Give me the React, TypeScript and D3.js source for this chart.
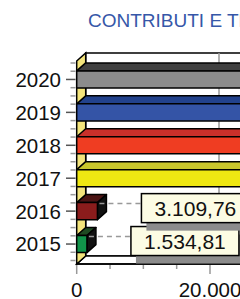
import React from 'react';
import * as d3 from 'd3';

// data (2017-2020 run past the cropped edge, estimated)
const years = ['2015', '2016', '2017', '2018', '2019', '2020'];
const values = [1534.81, 3109.76, 46000, 52000, 49000, 58000];
const frontColors = ['#11944a', '#8b1c1c', '#efe812', '#ef3d22', '#3454a6', '#8c8c8c'];
const topColors = ['#1f4a22', '#4b1414', '#c9c62c', '#c9302a', '#22428c', '#404040'];
const xTickValues = [0, 20000, 40000, 60000, 80000];
const minorTickValues = d3.range(0, 80001, 5000);
const title = 'CONTRIBUTI E TRASFERIMENTI';

const W = 240;
const H = 299;
const DX = 9; // 3d depth
const DY = 8;
const FAR = 700;

const it = d3.formatLocale({ decimal: ',', thousands: '.', grouping: [3], currency: ['€', ''] });
const fmtValue = it.format(',.2f');
const fmtTick = it.format(',.0f');

const App = () => {
  const x = d3.scaleLinear().domain([0, 20000]).range([76.7, 210]);
  const y = d3
    .scaleBand()
    .domain([...years].reverse())
    .range([63, 260.5])
    .paddingInner(0.48)
    .paddingOuter(0.24);
  const bw = y.bandwidth();
  const step = y.step();
  const x0 = x(0);
  const yTop = 61;
  const yBot = 264;

  const first = (y('2020') as number) + bw / 2;
  const yTicks = d3.range(-2, 23).map((j) => ({ y: first + (j * step) / 4, major: j % 4 === 0 }));

  const poly = (pts: number[][]) => pts.map((p) => p.join(',')).join(' ');
  const font = 'Liberation Sans, Arial, sans-serif';

  const bars = years.map((yr, i) => {
    const yy = y(yr) as number;
    const x1 = x(values[i]);
    return { yr, i, yy, x1 };
  });

  return (
    <svg width={W} height={H} style={{ position: 'absolute', left: 0, top: 0, background: '#fff' }}>
      <text x={88} y={27} fontFamily={font} fontSize={19} fill="#3657a8">
        {title}
      </text>

      {/* back wall */}
      <rect x={x0 + DX} y={yTop - DY} width={FAR} height={yBot - yTop} fill="#fff" stroke="#000" strokeWidth={1.5} />
      {xTickValues.slice(1).map((t) => (
        <line key={t} x1={x(t) + DX} x2={x(t) + DX} y1={yTop - DY} y2={yBot - DY} stroke="#999" strokeWidth={1.5} />
      ))}
      {/* floor */}
      <polygon
        points={poly([[x0, yBot], [FAR, yBot], [FAR + DX, yBot - DY], [x0 + DX, yBot - DY]])}
        fill="#fff"
        stroke="#000"
        strokeWidth={1.5}
      />
      {/* left wall */}
      <polygon
        points={poly([[x0, yTop], [x0 + DX, yTop - DY], [x0 + DX, yBot - DY], [x0, yBot]])}
        fill="#f3e47c"
        stroke="#000"
        strokeWidth={1.5}
      />

      {/* y ticks */}
      {yTicks.map((t, k) => (
        <line
          key={k}
          x1={t.major ? 66 : 70.5}
          x2={75.5}
          y1={t.y}
          y2={t.y}
          stroke={t.major ? '#555' : '#999'}
          strokeWidth={1.5}
        />
      ))}
      {years.map((yr) => (
        <text
          key={yr}
          x={61}
          y={(y(yr) as number) + bw / 2}
          dy="0.36em"
          textAnchor="end"
          fontFamily={font}
          fontSize={20.5}
          fill="#111"
        >
          {yr}
        </text>
      ))}

      {/* x ticks */}
      {minorTickValues.map((t) => (
        <line
          key={t}
          x1={x(t)}
          x2={x(t)}
          y1={yBot + 1}
          y2={t % 20000 === 0 ? 274 : 269}
          stroke="#999"
          strokeWidth={1.5}
        />
      ))}
      {xTickValues.map((t) => (
        <text key={t} x={x(t)} y={297} textAnchor="middle" fontFamily={font} fontSize={20.5} fill="#111">
          {fmtTick(t)}
        </text>
      ))}
      <line x1={x0} x2={FAR} y1={yBot} y2={yBot} stroke="#000" strokeWidth={1.5} />

      {/* bars */}
      {bars.map((b) => (
        <g key={b.yr} stroke="#000" strokeWidth={1.5} strokeLinejoin="round">
          <polygon
            points={poly([[x0, b.yy], [b.x1, b.yy], [b.x1 + DX, b.yy - DY], [x0 + DX, b.yy - DY]])}
            fill={topColors[b.i]}
          />
          <polygon
            points={poly([[b.x1, b.yy], [b.x1 + DX, b.yy - DY], [b.x1 + DX, b.yy + bw - DY], [b.x1, b.yy + bw]])}
            fill="#111"
          />
          <rect x={x0} y={b.yy} width={b.x1 - x0} height={bw} fill={frontColors[b.i]} />
        </g>
      ))}

      {/* value labels */}
      {bars.map((b) => {
        const bx = b.x1 + 44;
        const bh = 29;
        const by = b.yy + bw / 2 - 3 - bh / 2;
        const w = 108;
        return (
          <g key={b.yr}>
            <line
              x1={b.x1 + 2}
              x2={bx}
              y1={b.yy + 1}
              y2={b.yy + 1}
              stroke="#999"
              strokeWidth={1.5}
              strokeDasharray="5 4"
            />
            <rect x={bx + 5} y={by + 8} width={w} height={bh} fill="#8c8c8c" />
            <rect x={bx} y={by} width={w} height={bh} fill="#fcfce4" stroke="#000" strokeWidth={1.5} />
            <text
              x={bx + w / 2}
              y={by + bh / 2}
              dy="0.36em"
              textAnchor="middle"
              fontFamily={font}
              fontSize={21}
              fill="#111"
            >
              {fmtValue(values[b.i])}
            </text>
          </g>
        );
      })}
    </svg>
  );
};

export default App;
